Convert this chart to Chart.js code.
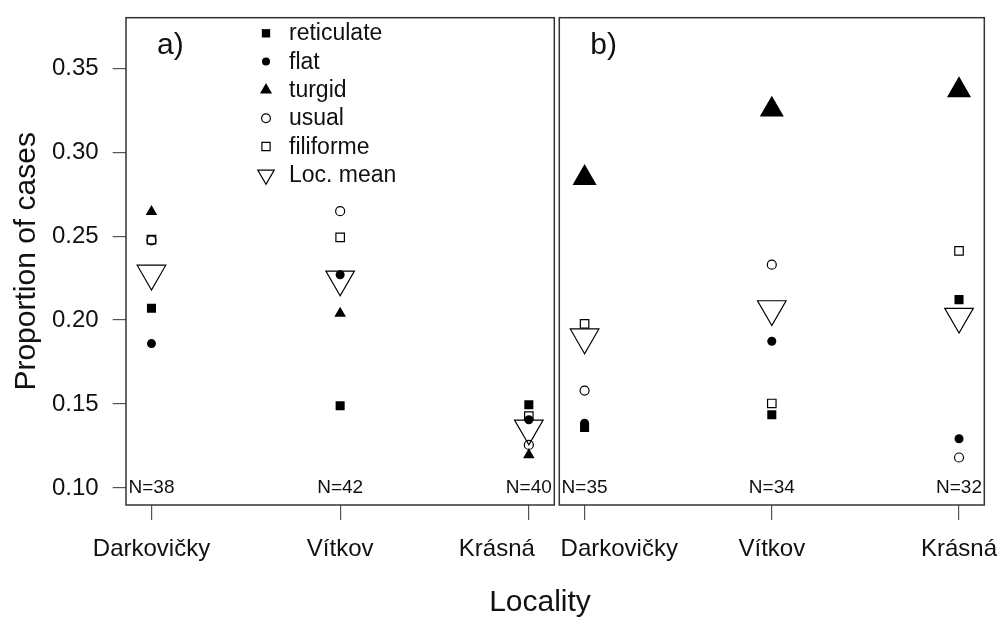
<!DOCTYPE html>
<html lang="en">
<head>
<meta charset="UTF-8">
<title>Proportion of cases by locality</title>
<script src="https://cdn.jsdelivr.net/npm/chart.js"></script>
<style>
  html, body { margin: 0; padding: 0; background: #fff; }
  #wrap { position: relative; width: 1002px; height: 621px; }
  #wrap canvas { position: absolute; left: 0; top: 0; }
</style>
</head>
<body>
<div id="wrap">
  <canvas id="chartA" width="1002" height="621"></canvas>
  <canvas id="chartB" width="1002" height="621"></canvas>
</div>
<script>
const LOCALITIES = ['Darkovičky', 'Vítkov', 'Krásná'];
const LOC_X = [1, 2, 3];
const Y_TICKS = [0.10, 0.15, 0.20, 0.25, 0.30, 0.35];
const SHAPES = ['reticulate', 'flat', 'turgid', 'usual', 'filiforme', 'Loc. mean'];

// panel a)
const A_RETICULATE = [0.207, 0.149, 0.1495];
const A_FLAT = [0.186, 0.227, 0.1406];
const A_TURGID = [0.2646, 0.204, 0.1197];
const A_USUAL = [0.2475, 0.2649, 0.1256];
const A_FILIFORME = [0.248, 0.2493, 0.1428];
const A_MEAN = [0.2278, 0.2243, 0.1355];
const A_N = ['N=38', 'N=42', 'N=40'];

// panel b)
const B_RETICULATE = [0.136, 0.1436, 0.2122];
const B_FLAT = [0.1385, 0.1874, 0.1293];
const B_TURGID = [0.2847, 0.3254, 0.337];
const B_USUAL = [0.158, 0.233, 0.1181];
const B_FILIFORME = [0.1978, 0.1503, 0.2412];
const B_MEAN = [0.1898, 0.2066, 0.2021];
const B_N = ['N=35', 'N=34', 'N=32'];

const FONT = '"Liberation Sans", Arial, sans-serif';
const INK = '#111';

// marker look: style, rotation, filled, radius in plot, radius in legend
const MARKERS = [
    { style: 'rect', rot: 0, filled: true, r: 6.4, lr: 5.9 },       // reticulate
    { style: 'circle', rot: 0, filled: true, r: 4.5, lr: 4 },       // flat
    { style: 'triangle', rot: 0, filled: true, r: 6.7, lr: 7 },     // turgid
    { style: 'circle', rot: 0, filled: false, r: 4.5, lr: 4.4 },    // usual
    { style: 'rect', rot: 0, filled: false, r: 6, lr: 5.8 },        // filiforme
    { style: 'triangle', rot: 180, filled: false, r: 16.5, lr: 9.5 } // mean
];

function makeDatasets(series, turgidRadius) {
    return series.map((vals, k) => {
        const m = MARKERS[k];
        return {
            label: SHAPES[k],
            data: vals.map((v, i) => ({ x: LOC_X[i], y: v })),
            showLine: false,
            pointStyle: m.style,
            pointRotation: m.rot,
            pointRadius: (k === 2 && turgidRadius) ? turgidRadius : m.r,
            pointBackgroundColor: m.filled ? '#000' : 'rgba(0,0,0,0)',
            pointBorderColor: '#000',
            pointBorderWidth: m.filled ? 0 : 1.2
        };
    });
}

function marker(ctx, m, x, y, r) {
    ctx.beginPath();
    if (m.style === 'circle') {
        ctx.arc(x, y, r, 0, Math.PI * 2);
    } else if (m.style === 'rect') {
        const s = r * Math.SQRT1_2;
        ctx.rect(x - s, y - s, 2 * s, 2 * s);
    } else {
        let a = m.rot * Math.PI / 180;
        ctx.moveTo(x + Math.sin(a) * r, y - Math.cos(a) * r);
        for (let k = 0; k < 2; k++) {
            a += Math.PI * 2 / 3;
            ctx.lineTo(x + Math.sin(a) * r, y - Math.cos(a) * r);
        }
        ctx.closePath();
    }
    if (m.filled) {
        ctx.fillStyle = '#000';
        ctx.fill();
    } else {
        ctx.strokeStyle = '#000';
        ctx.lineWidth = 1.2;
        ctx.stroke();
    }
}

// box, panel letter, N labels, locality labels, titles and legend
const decor = {
    id: 'decor',
    afterDraw(chart, args, o) {
        const ctx = chart.ctx;
        const area = chart.chartArea;
        const xs = chart.scales.x, ys = chart.scales.y;
        ctx.save();
        ctx.strokeStyle = '#333';
        ctx.lineWidth = 1.5;
        ctx.strokeRect(area.left, area.top, area.right - area.left, area.bottom - area.top);

        ctx.fillStyle = INK;
        ctx.textBaseline = 'alphabetic';
        ctx.textAlign = 'left';
        ctx.font = '30px ' + FONT;
        ctx.fillText(o.letter, area.left + o.letterDx, 54);

        ctx.font = '19px ' + FONT;
        ctx.textAlign = 'center';
        ctx.textBaseline = 'middle';
        o.n.forEach((t, i) => ctx.fillText(t, xs.getPixelForValue(LOC_X[i]), ys.getPixelForValue(0.10)));

        ctx.font = '24px ' + FONT;
        ctx.textBaseline = 'alphabetic';
        LOCALITIES.forEach((t, i) => {
            ctx.textAlign = o.align[i];
            ctx.fillText(t, xs.getPixelForValue(LOC_X[i]) + o.shift[i], 556);
        });

        if (o.titles) {
            ctx.font = '30px ' + FONT;
            ctx.textAlign = 'center';
            ctx.fillText('Locality', 540, 611);
            ctx.save();
            ctx.translate(35, (area.top + area.bottom) / 2);
            ctx.rotate(-Math.PI / 2);
            ctx.fillText('Proportion of cases', 0, 0);
            ctx.restore();
        }

        if (o.legend) {
            ctx.font = '23px ' + FONT;
            ctx.textAlign = 'left';
            SHAPES.forEach((t, k) => {
                const y = 33.3 + k * 28.3;
                marker(ctx, MARKERS[k], 266, y, MARKERS[k].lr);
                ctx.fillStyle = INK;
                ctx.fillText(t, 289, y + 7);
            });
        }
        ctx.restore();
    }
};

function makeChart(id, datasets, pad, showY, deco) {
    return new Chart(document.getElementById(id), {
        type: 'scatter',
        data: { datasets: datasets },
        options: {
            responsive: false,
            animation: false,
            events: [],
            layout: { padding: pad },
            plugins: { legend: { display: false }, tooltip: { enabled: false }, decor: deco },
            scales: {
                x: {
                    type: 'linear',
                    min: 0.865,
                    max: 3.135,
                    afterBuildTicks: s => { s.ticks = LOC_X.map(v => ({ value: v })); },
                    afterFit: s => { s.height = 116; s.paddingLeft = 0; s.paddingRight = 0; },
                    ticks: { display: false },
                    grid: { drawOnChartArea: false, tickLength: 15, color: '#555', lineWidth: 1.2 },
                    border: { display: false }
                },
                y: {
                    type: 'linear',
                    display: showY,
                    min: 0.0898,
                    max: 0.3802,
                    afterBuildTicks: s => { s.ticks = Y_TICKS.map(v => ({ value: v })); },
                    afterFit: s => { s.width = showY ? 126 : 0; s.paddingTop = 0; s.paddingBottom = 0; },
                    ticks: {
                        padding: 14,
                        color: INK,
                        font: { family: FONT, size: 24 },
                        callback: v => v.toFixed(2)
                    },
                    grid: { drawOnChartArea: false, tickLength: 13.3, color: '#555', lineWidth: 1.2 },
                    border: { display: false }
                }
            }
        },
        plugins: [decor]
    });
}

makeChart('chartA',
    makeDatasets([A_RETICULATE, A_FLAT, A_TURGID, A_USUAL, A_FILIFORME, A_MEAN]),
    { left: 0, top: 11, right: 1002 - 554.3, bottom: 0 }, true,
    { letter: 'a)', letterDx: 31, n: A_N, align: ['center', 'center', 'right'], shift: [0, 0, 6], titles: true, legend: true });

makeChart('chartB',
    makeDatasets([B_RETICULATE, B_FLAT, B_TURGID, B_USUAL, B_FILIFORME, B_MEAN], 13.9),
    { left: 559.3, top: 11, right: 1002 - 987.7, bottom: 0 }, false,
    { letter: 'b)', letterDx: 31, n: B_N, align: ['left', 'center', 'center'], shift: [-24, 0, 0], titles: false, legend: false });
</script>
</body>
</html>
